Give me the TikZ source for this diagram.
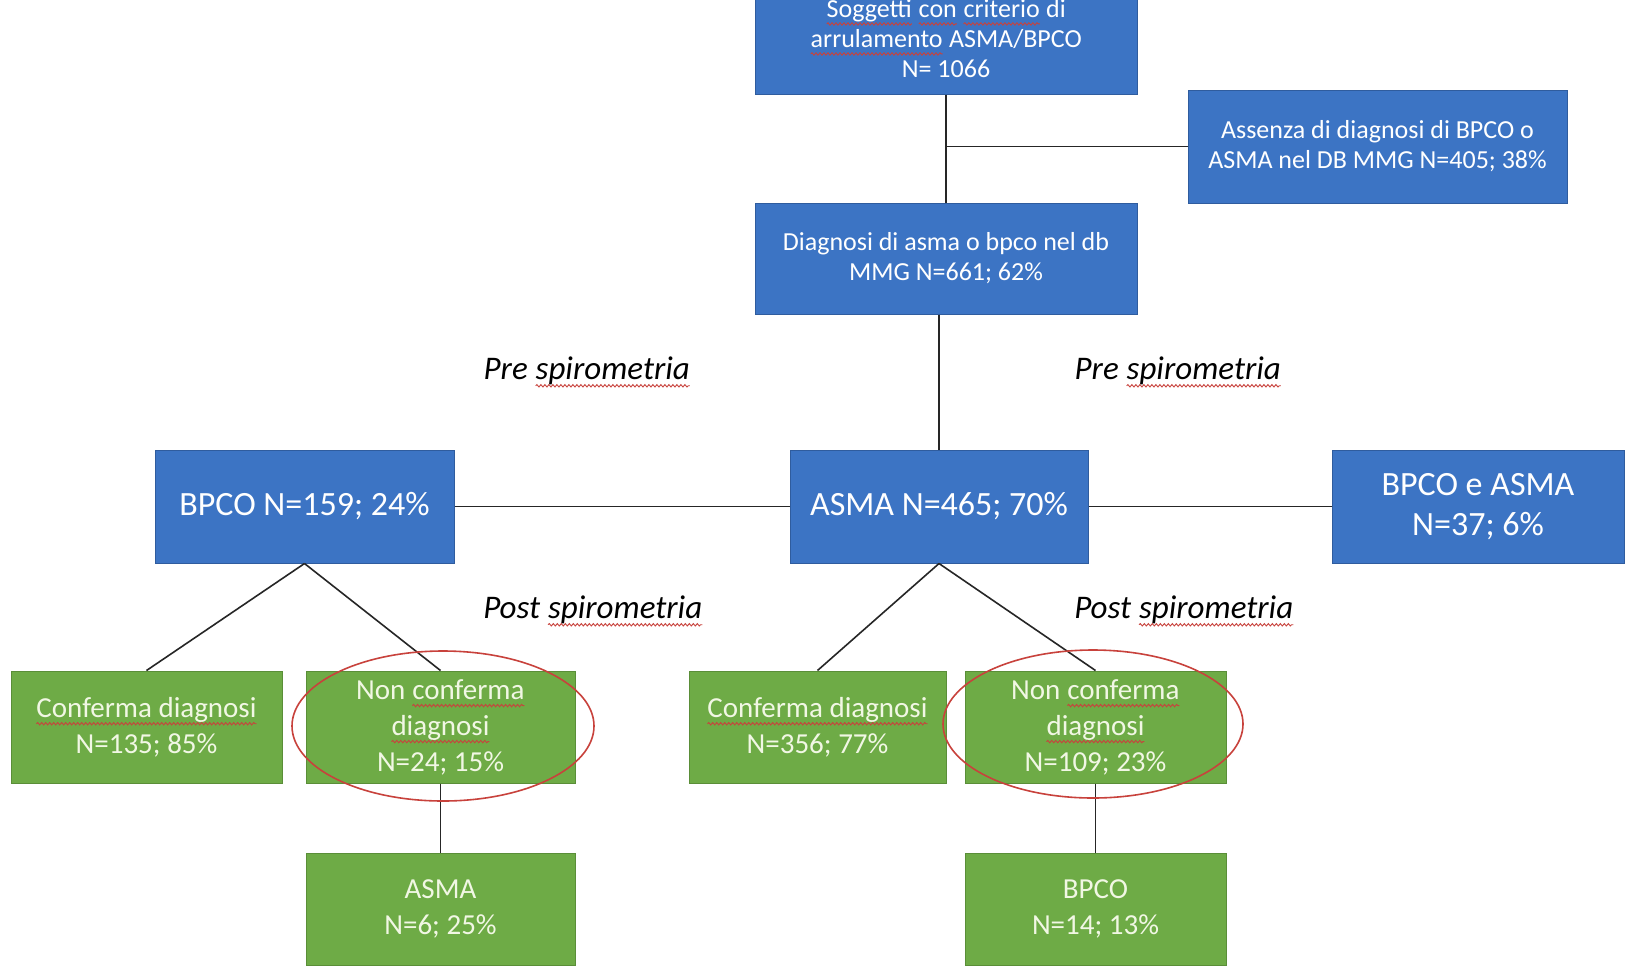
\documentclass[tikz,border=0pt]{standalone}
\usepackage{fontspec}
\setmainfont{Carlito}
\usetikzlibrary{decorations.pathmorphing}
\definecolor{blu}{HTML}{3C74C4}
\definecolor{bluscuro}{HTML}{2F5C9E}
\definecolor{verde}{HTML}{6EAB46}
\definecolor{verdescuro}{HTML}{5A8E38}
\definecolor{testoverde}{HTML}{F1F7E4}
\definecolor{rossoline}{HTML}{C8423C}
\newcommand{\ondina}[1]{\tikz[baseline=(w.base),x=1pt,y=1pt]{\node[rectangle,draw=none,fill=none,minimum width=0pt,minimum height=0pt,inner sep=0pt,outer sep=0pt] (w) {#1};
	\draw[rossoline,line width=0.9pt,decorate,decoration={snake,amplitude=1.2pt,segment length=4pt}] ([yshift=-6.5pt]w.base west) -- ([yshift=-6.5pt]w.base east);}}

\begin{document}
\begin{tikzpicture}[x=1pt,y=-1pt,
	blubox/.style={rectangle,draw=bluscuro,line width=1pt,fill=blu,text=white,align=center,inner sep=0pt,font=\fontsize{26}{30}\selectfont},
	grossa/.style={font=\fontsize{34}{40}\selectfont},
	verbox/.style={rectangle,draw=verdescuro,line width=1pt,fill=verde,text=testoverde,align=center,inner sep=0pt,minimum height=112,font=\fontsize{29}{36}\selectfont},
	linea/.style={draw=black!85,line width=1.6pt},
	etichetta/.style={font=\fontsize{33}{38}\selectfont\itshape},
	cerchio/.style={draw=rossoline,line width=1.6pt}]
	\useasboundingbox[fill=white] (0,0) rectangle (1627,967);

	\node[blubox,minimum width=382,minimum height=111] (soggetti) at (946,38.5) {\ondina{Soggetti} \ondina{con} \ondina{criterio} di\\ \ondina{arrulamento} ASMA/BPCO\\ N= 1066};
	\node[blubox,minimum width=379,minimum height=113] (assenza) at (1377.5,146.5) {Assenza di diagnosi di BPCO o\\ ASMA nel DB MMG N=405; 38\%};
	\node[blubox,minimum width=382,minimum height=111] (diagnosi) at (946,258.5) {Diagnosi di asma o bpco nel db\\ MMG N=661; 62\%};

	\node[blubox,grossa,minimum width=299,minimum height=113] (bpco) at (304.5,506.5) {BPCO N=159; 24\%};
	\node[blubox,grossa,minimum width=298,minimum height=113] (asma) at (939,506.5) {ASMA N=465; 70\%};
	\node[blubox,grossa,minimum width=292,minimum height=113] (entrambe) at (1478,506.5) {BPCO e ASMA\\ N=37; 6\%};

	\node[etichetta] (preL) at (587,372) {Pre \ondina{spirometria}};
	\node[etichetta] (preR) at (1178,372) {Pre \ondina{spirometria}};
	\node[etichetta] (postL) at (593,611) {Post \ondina{spirometria}};
	\node[etichetta] (postR) at (1184,611) {Post \ondina{spirometria}};

	\node[verbox,minimum width=271] (confL) at (146.5,727) {\ondina{Conferma diagnosi}\\ N=135; 85\%};
	\node[verbox,minimum width=269] (nonL) at (440.5,727) {Non \ondina{conferma}\\ \ondina{diagnosi}\\ N=24; 15\%};
	\node[verbox,minimum width=257] (confR) at (817.5,727) {\ondina{Conferma diagnosi}\\ N=356; 77\%};
	\node[verbox,minimum width=261] (nonR) at (1095.5,727) {Non \ondina{conferma}\\ \ondina{diagnosi}\\ N=109; 23\%};
	\node[verbox,minimum width=269] (asmaL) at (440.5,909) {ASMA\\ N=6; 25\%};
	\node[verbox,minimum width=261] (bpcoR) at (1095.5,909) {BPCO\\ N=14; 13\%};

	\coordinate (snodo) at (soggetti.south |- assenza.west);
	\draw[linea] (soggetti) -- (diagnosi);
	\draw[linea] (snodo) -- (assenza);
	\draw[linea] (diagnosi.south -| asma.north) -- (asma);
	\draw[linea] (bpco) -- (asma);
	\draw[linea] (asma) -- (entrambe);
	\draw[linea] (bpco.south) -- (confL.north);
	\draw[linea] (bpco.south) -- (nonL.north);
	\draw[linea] (asma.south) -- (confR.north);
	\draw[linea] (asma.south) -- (nonR.north);
	\draw[linea] (nonL) -- (asmaL);
	\draw[linea] (nonR) -- (bpcoR);

	\draw[cerchio] ([shift={(2.5,-1)}]nonL.center) ellipse [x radius=151,y radius=75];
	\draw[cerchio] ([shift={(-2.5,-3)}]nonR.center) ellipse [x radius=150,y radius=74];
\end{tikzpicture}
\end{document}
